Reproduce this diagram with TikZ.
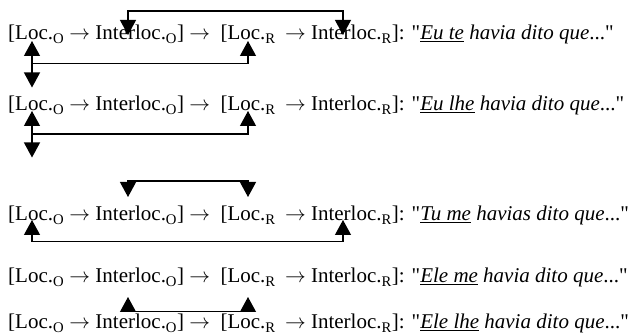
\documentclass[tikz,border=0pt]{standalone}
\usepackage{fontspec}
\setmainfont{Liberation Serif}
\usetikzlibrary{arrows.meta}

\newcommand{\LocO}{Loc.\textsubscript{O}}
\newcommand{\LocR}{Loc.\textsubscript{R}}
\newcommand{\IntO}{Interloc.\textsubscript{O}}
\newcommand{\IntR}{Interloc.\textsubscript{R}}
\newcommand{\chain}{[\LocO{} $\rightarrow$ \IntO] $\rightarrow$\ \ [\LocR{}\hspace{4pt} $\rightarrow$ \IntR]: }
\newcommand{\qq}{\textquotedbl}

\begin{document}
\begin{tikzpicture}[
x=1pt, y=1pt,
every node/.style={
anchor=base west,
inner sep=0pt,
font=\fontsize{21}{25}\selectfont
},
twoway/.style={
line width=1.2pt,
{Triangle[length=15pt,width=16pt]}-{Triangle[length=15pt,width=16pt]}
},
oneway/.style={
line width=1.2pt,
-{Triangle[length=15pt,width=16pt]}
}
]
\useasboundingbox (0,0) rectangle (635,334);

% the five sentences
\node (S1) at (8,294)
{\chain\qq\underline{\textit{Eu te}} \textit{havia dito que}...\qq};

\node (S2) at (8,223)
{\chain\qq\underline{\textit{Eu lhe}} \textit{havia dito que}...\qq};

\node (S3) at (8,113)
{\chain\qq\underline{\textit{Tu me}} \textit{havias dito que}...\qq};

\node (S4) at (8,51)
{\chain\qq\underline{\textit{Ele me}} \textit{havia dito que}...\qq};

\node (S5) at (8,5)
{\chain\qq\underline{\textit{Ele lhe}} \textit{havia dito que}...\qq};

% arrow ends
\coordinate (A1) at (128,299);
\coordinate (A2) at (343,299);

\coordinate (B1) at (32,293);
\coordinate (B2) at (32,246.5);
\coordinate (B3) at (248,293);
\coordinate (Bj) at (32,270.5);

\coordinate (C1) at (32,223);
\coordinate (C2) at (32,176.5);
\coordinate (C3) at (248,223);
\coordinate (Cj) at (32,200);

\coordinate (D1) at (128,137);
\coordinate (D2) at (248,137);

\coordinate (E1) at (32,114);
\coordinate (E2) at (343,114);

\coordinate (F1) at (128,37);
\coordinate (F2) at (248,37);

\draw[twoway] (A1) -- ++(0,24) -| (A2);

\draw[twoway] (B1) -- (B2);
\draw[oneway] (Bj) -| (B3);

\draw[twoway] (C1) -- (C2);
\draw[oneway] (Cj) -| (C3);

\draw[twoway] (D1) -- ++(0,16) -| (D2);

\draw[twoway] (E1) -- ++(0,-21.5) -| (E2);

\draw[twoway] (F1) -- ++(0,-14.5) -| (F2);

\end{tikzpicture}
\end{document}
